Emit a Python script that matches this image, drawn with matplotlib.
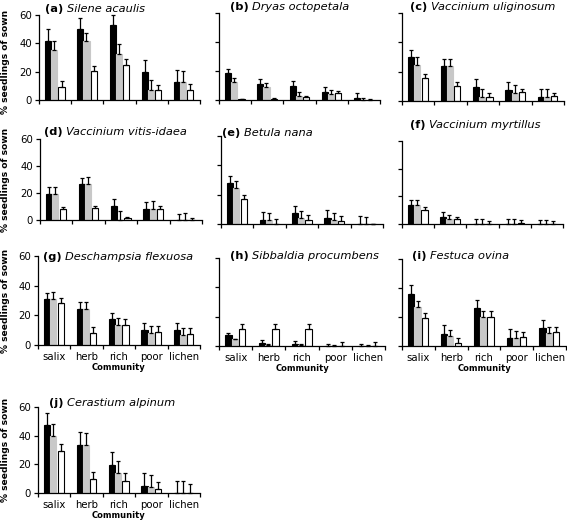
import matplotlib
matplotlib.use("Agg")
import matplotlib.pyplot as plt
import numpy as np

plt.rcParams['font.family'] = ['DejaVu Sans']

communities = ["salix", "herb", "rich", "poor", "lichen"]
panel_letters = ["(a)", "(b)", "(c)", "(d)", "(e)", "(f)", "(g)", "(h)", "(i)", "(j)"]
species = ["Silene acaulis", "Dryas octopetala", "Vaccinium uliginosum",
           "Vaccinium vitis-idaea", "Betula nana", "Vaccinium myrtillus",
           "Deschampsia flexuosa", "Sibbaldia procumbens", "Festuca ovina",
           "Cerastium alpinum"]

# means (black, gray, white) and upper error bars per panel
a_black = [41.7, 50.0, 52.7, 20.0, 13.0]; a_black_err = [8.2, 8.0, 7.5, 8.0, 8.0]
a_gray = [35.0, 41.5, 32.8, 7.3, 13.0];   a_gray_err = [7.0, 6.0, 6.8, 6.7, 7.4]
a_white = [8.9, 20.4, 25.0, 6.8, 7.0];    a_white_err = [4.4, 3.6, 4.0, 3.7, 4.0]

b_black = [18.3, 11.2, 9.4, 5.4, 1.4];    b_black_err = [3.2, 3.3, 3.6, 3.3, 3.3]
b_gray = [12.4, 8.9, 2.6, 4.2, 0.0];      b_gray_err = [2.6, 2.8, 2.8, 2.8, 1.6]
b_white = [0.5, 1.0, 1.9, 4.7, 0.0];      b_white_err = [0.5, 0.4, 1.1, 1.2, 0.5]

c_black = [29.8, 23.7, 9.5, 7.2, 2.8];    c_black_err = [5.2, 5.1, 5.5, 5.6, 5.2]
c_gray = [24.6, 23.7, 2.8, 5.6, 2.8];     c_gray_err = [5.2, 5.1, 5.2, 5.1, 5.2]
c_white = [16.0, 10.0, 3.0, 6.0, 3.3];    c_white_err = [2.4, 2.8, 2.6, 2.0, 2.3]

d_black = [19.3, 26.7, 10.4, 7.9, 0.0];   d_black_err = [4.9, 4.7, 5.2, 5.1, 4.4]
d_gray = [19.3, 26.7, 0.0, 7.9, 0.0];     d_gray_err = [5.4, 5.3, 6.4, 5.9, 5.2]
d_white = [7.9, 8.6, 1.2, 8.4, 0.0];      d_white_err = [2.0, 1.8, 1.3, 2.0, 1.5]

e_black = [28.0, 2.9, 7.6, 4.3, 0.0];     e_black_err = [5.0, 5.2, 5.0, 5.1, 5.2]
e_gray = [24.7, 2.9, 4.3, 2.7, 0.0];      e_gray_err = [4.5, 4.5, 4.9, 4.5, 4.7]
e_white = [16.9, 0.0, 2.9, 2.2, 0.0];     e_white_err = [2.9, 3.4, 2.9, 3.0, 0.0]

f_black = [14.0, 5.3, 0.3, 0.3, 0.0];     f_black_err = [3.1, 3.4, 3.3, 3.3, 2.9]
f_gray = [14.0, 3.4, 0.3, 0.0, 0.0];      f_gray_err = [3.1, 2.9, 3.3, 3.6, 2.9]
f_white = [10.4, 3.6, 0.0, 0.7, 0.0];     f_white_err = [1.6, 1.5, 1.9, 2.0, 2.4]

g_black = [30.9, 24.2, 17.4, 10.2, 10.2]; g_black_err = [4.1, 4.5, 4.5, 4.5, 4.5]
g_gray = [30.9, 24.2, 13.3, 8.4, 6.8];    g_gray_err = [4.8, 4.7, 5.0, 4.7, 4.9]
g_white = [28.2, 7.9, 13.8, 8.8, 7.2];    g_white_err = [3.4, 4.3, 3.8, 3.8, 4.1]

h_black = [7.3, 2.3, 1.4, 0.0, 0.0];      h_black_err = [1.7, 1.6, 1.8, 1.1, 1.1]
h_gray = [4.5, 0.5, 0.5, 0.0, 0.0];       h_gray_err = [0.3, 0.6, 1.1, 0.9, 0.6]
h_white = [11.8, 11.8, 11.8, 0.0, 0.0];   h_white_err = [3.0, 3.0, 3.0, 3.0, 2.7]

i_black = [36.1, 8.3, 26.0, 5.7, 12.4];   i_black_err = [5.7, 6.2, 6.0, 6.0, 5.8]
i_gray = [26.9, 6.7, 20.0, 5.7, 8.7];     i_gray_err = [4.4, 4.3, 4.4, 4.6, 4.6]
i_white = [19.5, 2.1, 20.2, 6.2, 9.4];    i_white_err = [3.5, 3.4, 3.7, 3.7, 3.7]

j_black = [47.4, 33.6, 19.3, 5.0, 0.0];   j_black_err = [8.5, 8.9, 9.0, 9.0, 8.7]
j_gray = [39.8, 33.6, 14.3, 4.1, 0.0];    j_gray_err = [8.0, 8.0, 7.7, 8.3, 8.3]
j_white = [29.0, 9.9, 8.7, 2.8, 0.0];     j_white_err = [5.0, 4.6, 5.1, 4.8, 6.0]

panels = [
    (a_black, a_black_err, a_gray, a_gray_err, a_white, a_white_err),
    (b_black, b_black_err, b_gray, b_gray_err, b_white, b_white_err),
    (c_black, c_black_err, c_gray, c_gray_err, c_white, c_white_err),
    (d_black, d_black_err, d_gray, d_gray_err, d_white, d_white_err),
    (e_black, e_black_err, e_gray, e_gray_err, e_white, e_white_err),
    (f_black, f_black_err, f_gray, f_gray_err, f_white, f_white_err),
    (g_black, g_black_err, g_gray, g_gray_err, g_white, g_white_err),
    (h_black, h_black_err, h_gray, h_gray_err, h_white, h_white_err),
    (i_black, i_black_err, i_gray, i_gray_err, i_white, i_white_err),
    (j_black, j_black_err, j_gray, j_gray_err, j_white, j_white_err),
]

yticks = [0, 20, 40, 60]

W, H = 567, 522
fig = plt.figure(figsize=(W / 100, H / 100), dpi=100)

# axes rectangles in pixels: left, top, right, bottom
rects = [
    (39, 15, 200, 100), (219, 13, 380, 100), (402, 13, 564, 101),
    (40, 139, 202, 220), (221, 136, 383, 224), (402, 141, 563, 224),
    (38, 256, 200, 345), (219, 258, 385, 346), (402, 259, 566, 346),
    (38, 407, 200, 493),
]
title_pos = [(45, 8), (230, 7), (410, 7), (44, 131), (222, 132), (410, 125),
             (43, 257), (230, 255), (412, 255), (49, 403)]

offsets = [-0.215, -0.025, 0.2]
bw = 0.19
colors = ["black", "#c8c8c8", "white"]
edges = ["black", "#c8c8c8", "black"]

x = np.arange(len(communities))
for k, (rect, data) in enumerate(zip(rects, panels)):
    l, t, r, b = rect
    ax = fig.add_axes([l / W, 1 - b / H, (r - l) / W, (b - t) / H])
    for s in range(3):
        vals = data[2 * s]
        errs = data[2 * s + 1]
        ax.bar(x + offsets[s], vals, width=bw, color=colors[s],
               edgecolor=edges[s], linewidth=0.8, zorder=2)
        ax.errorbar(x + offsets[s], vals, yerr=[np.zeros(len(errs)), errs],
                    fmt="none", ecolor="black", elinewidth=0.9, capsize=1.6,
                    capthick=0.9, zorder=3, clip_on=False)
    ax.set_xlim(-0.5, 4.5)
    ax.set_ylim(0, 60)
    ax.spines["top"].set_visible(False)
    ax.spines["right"].set_visible(False)
    ax.spines["left"].set_linewidth(0.9)
    ax.spines["bottom"].set_linewidth(0.9)
    ax.set_xticks(np.arange(-0.5, 5, 1))
    ax.set_xticklabels([])
    ax.set_xticks(x, minor=True)
    ax.tick_params(axis="x", which="minor", length=0, labelsize=7.3, pad=5)
    ax.tick_params(axis="x", which="major", length=3, width=0.9)
    ax.set_yticks(yticks)
    ax.tick_params(axis="y", length=3, width=0.9, labelsize=7.3, pad=2)
    if k in (6, 7, 8, 9):
        ax.set_xticklabels(communities, minor=True)
        ax.set_xlabel("Community", fontsize=6, fontweight="bold", labelpad=1)
    else:
        ax.set_xticklabels([], minor=True)
    if k in (0, 3, 6, 9):
        ax.set_yticklabels([str(v) for v in yticks])
        cy = (t + b) / 2 + (4 if k == 0 else 0)
        fig.text(6 / W, 1 - cy / H, "% seedlings of sown", rotation=90,
                 fontsize=6.6, fontweight="bold", ha="center", va="center")
    else:
        ax.set_yticklabels([])
    tx, ty = title_pos[k]
    bold = fig.text(tx / W, 1 - (ty + 3.5) / H, panel_letters[k], fontsize=8.2,
                    fontweight="bold", ha="left", va="baseline")
    plt.annotate(species[k], xy=(1, 1 - (ty + 3.5) / H),
                 xycoords=(bold, fig.transFigure),
                 xytext=(2.5, 0), textcoords="offset points",
                 fontsize=8.2, fontstyle="italic", ha="left", va="baseline",
                 annotation_clip=False)

fig.savefig("out.png", dpi=100)
